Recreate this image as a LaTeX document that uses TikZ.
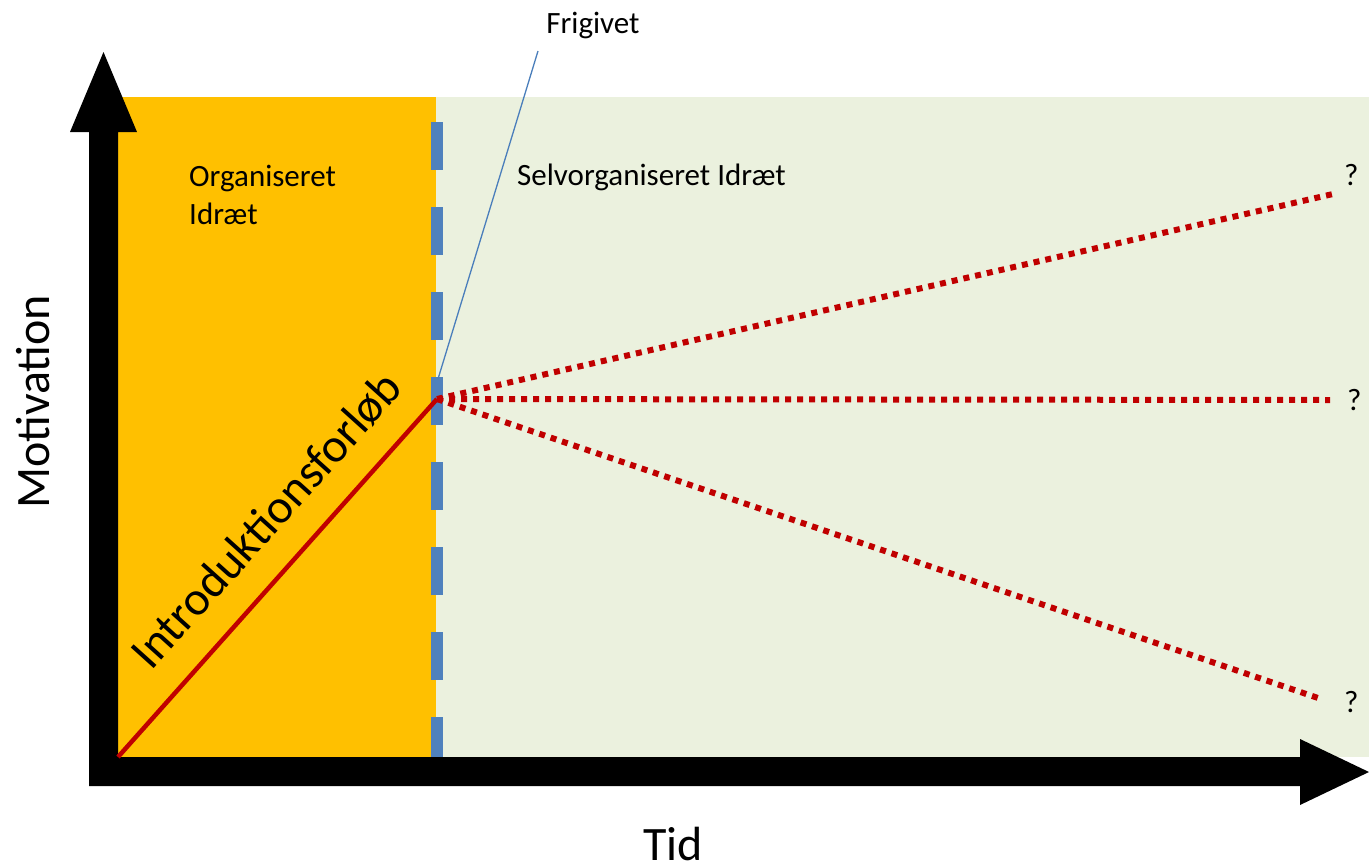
\documentclass[tikz,border=0pt]{standalone}
\usepackage{fontspec}
\setmainfont{Carlito}
\definecolor{orgyellow}{HTML}{FFC000}
\definecolor{selfgreen}{HTML}{EBF1DE}
\definecolor{dashblue}{HTML}{4F81BD}
\definecolor{linkblue}{HTML}{4A7EBB}
\definecolor{pathred}{HTML}{C00000}
\tikzset{
  lbl/.style={inner sep=0pt, font=\fontsize{31}{38}\selectfont},
  biglbl/.style={inner sep=0pt, font=\fontsize{48}{58}\selectfont},
  qmark/.style={inner sep=0pt, anchor=base west, font=\fontsize{31}{38}\selectfont},
  dotline/.style={draw=pathred, line width=6pt, dash pattern=on 6pt off 6pt},
  axisfill/.style={fill=black, draw=none}
}
\begin{document}
\begin{tikzpicture}[x=1pt,y=-1pt]
\useasboundingbox (0,0) rectangle (1369,863);
% backgrounds
\fill[orgyellow] (118,97) rectangle (436,757);
\fill[selfgreen] (436,97) rectangle (1369,757);
% blue dashed boundary
\draw[dashblue, line width=12pt, dash pattern=on 48pt off 37pt] (437,122) -- (437,757);
% axes
\fill[axisfill] (89,786) -- (89,132) -- (70,132) -- (103.5,52) -- (137,132) -- (118,132) -- (118,757)
  -- (1300,757) -- (1300,739) -- (1369,772) -- (1300,805) -- (1300,786) -- cycle;
% coordinates
\coordinate (O) at (118,757);
\coordinate (F) at (437,399);
\coordinate (upEnd) at (1333,194);
\coordinate (midEnd) at (1330,400);
\coordinate (lowEnd) at (1318,698);
\coordinate (fTop) at (538,51);
\coordinate (fBot) at (438,379);
% red lines
\draw[pathred, line width=4.5pt] (O) -- (F);
\draw[dotline] (F) -- (upEnd);
\draw[dotline] (F) -- (midEnd);
\draw[dotline] (F) -- (lowEnd);
% release marker
\draw[linkblue, line width=1.3pt] (fTop) -- (fBot);
% texts
\node[lbl, anchor=base] (frig) at (593,33) {Frigivet};
\node[lbl, anchor=base west] (org1) at (189,186) {Organiseret};
\node[lbl, anchor=base west] (org2) at (189,224) {Idræt};
\node[lbl, anchor=base west] (self) at (517,185) {Selvorganiseret Idræt};
\node[qmark] (q1) at (1344,185) {?};
\node[qmark] (q2) at (1347,410) {?};
\node[qmark] (q3) at (1344,712) {?};
\node[biglbl, anchor=base, rotate=90] (mot) at (49,402) {Motivation};
\node[biglbl, anchor=base] (tid) at (673,860) {Tid};
\node[biglbl, anchor=base, rotate=48] (intro) at (278,531) {Introduktionsforløb};
\end{tikzpicture}
\end{document}
